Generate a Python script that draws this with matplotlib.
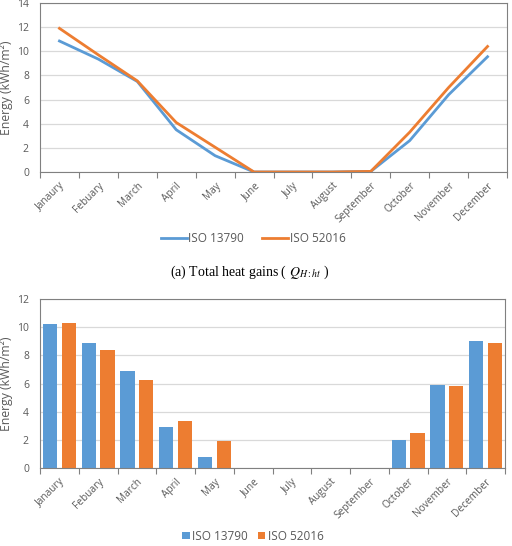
import matplotlib.pyplot as plt
import numpy as np

# =========================
# DATA
# =========================
months = ["Janaury", "Febuary", "March", "April", "May", "June", "July",
          "August", "September", "October", "November", "December"]

# (a) total heat gains - line chart
gains_13790 = [10.85, 9.35, 7.5, 3.5, 1.35, 0.0, 0.0, 0.0, 0.05, 2.6, 6.4, 9.55]
gains_52016 = [11.9, 9.7, 7.55, 4.1, 2.05, 0.0, 0.0, 0.0, 0.05, 3.3, 7.0, 10.4]

# bar chart
bars_13790 = [10.2, 8.9, 6.9, 2.9, 0.75, 0, 0, 0, 0, 2.02, 5.86, 9.0]
bars_52016 = [10.33, 8.38, 6.27, 3.32, 1.92, 0, 0, 0, 0, 2.5, 5.8, 8.88]

series_names = ["ISO 13790", "ISO 52016"]

BLUE = "#5B9BD5"
ORANGE = "#ED7D31"
GRAY = "#595959"
GRID = "#D9D9D9"
FRAME = "#808080"

plt.rcParams["font.family"] = ["Open Sans", "DejaVu Sans"]
plt.rcParams["mathtext.fontset"] = "stix"

fig = plt.figure(figsize=(5.12, 5.46), dpi=100)


def style_axes(ax, ymax):
    x = np.arange(len(months))
    ax.set_xlim(-0.5, len(months) - 0.5)
    ax.set_ylim(0, ymax)
    ax.set_yticks(np.arange(0, ymax + 1, 2))
    ax.set_xticks(x)
    ax.set_xticklabels(months, rotation=45, ha="right", rotation_mode="anchor")
    ax.set_xticks(np.arange(-0.5, len(months)), minor=True)
    ax.tick_params(axis="x", which="major", length=0, pad=6, labelsize=7.3, colors=GRAY)
    ax.tick_params(axis="x", which="minor", length=4, width=0.8, color=FRAME)
    ax.tick_params(axis="y", length=0, pad=8, labelsize=7.5, colors=GRAY)
    ax.grid(axis="y", color=GRID, linewidth=0.9)
    ax.set_axisbelow(True)
    for s in ax.spines.values():
        s.set_color(FRAME)
        s.set_linewidth(0.8)
    ax.set_ylabel("Energy (kWh/m\u00b2)", fontsize=8.8, color=GRAY, labelpad=3)


# =========================
# TOP: LINE CHART
# =========================
ax1 = fig.add_axes([40 / 512, 1 - 172 / 546, 467 / 512, 169 / 546])
x = np.arange(len(months))
ax1.plot(x, gains_13790, color=BLUE, lw=2.0, label=series_names[0])
ax1.plot(x, gains_52016, color=ORANGE, lw=2.0, label=series_names[1])
style_axes(ax1, 14)
ax1.legend(loc="center", bbox_to_anchor=(253 / 512, 1 - 239 / 546),
           bbox_transform=fig.transFigure, ncol=2, frameon=False,
           fontsize=8.5, labelcolor=GRAY, handlelength=2.2,
           handletextpad=0.1, columnspacing=1.6)

fig.text(250 / 512, 1 - 272 / 546, "(a) Total heat gains ( $Q_{H:ht}$ )",
         ha="center", va="center", fontsize=10, family="Liberation Serif")

# =========================
# BOTTOM: BAR CHART
# =========================
ax2 = fig.add_axes([40 / 512, 1 - 468 / 546, 465 / 512, 169 / 546])
w = 0.37
ax2.bar(x - 0.24, bars_13790, w, color=BLUE, label=series_names[0])
ax2.bar(x + 0.24, bars_52016, w, color=ORANGE, label=series_names[1])
style_axes(ax2, 12)
ax2.legend(loc="center", bbox_to_anchor=(253 / 512, 1 - 536 / 546),
           bbox_transform=fig.transFigure, ncol=2, frameon=False,
           fontsize=8.5, labelcolor=GRAY, handlelength=0.6, handleheight=0.6,
           handletextpad=0.2, columnspacing=0.9)

fig.savefig("out.png", dpi=100)
